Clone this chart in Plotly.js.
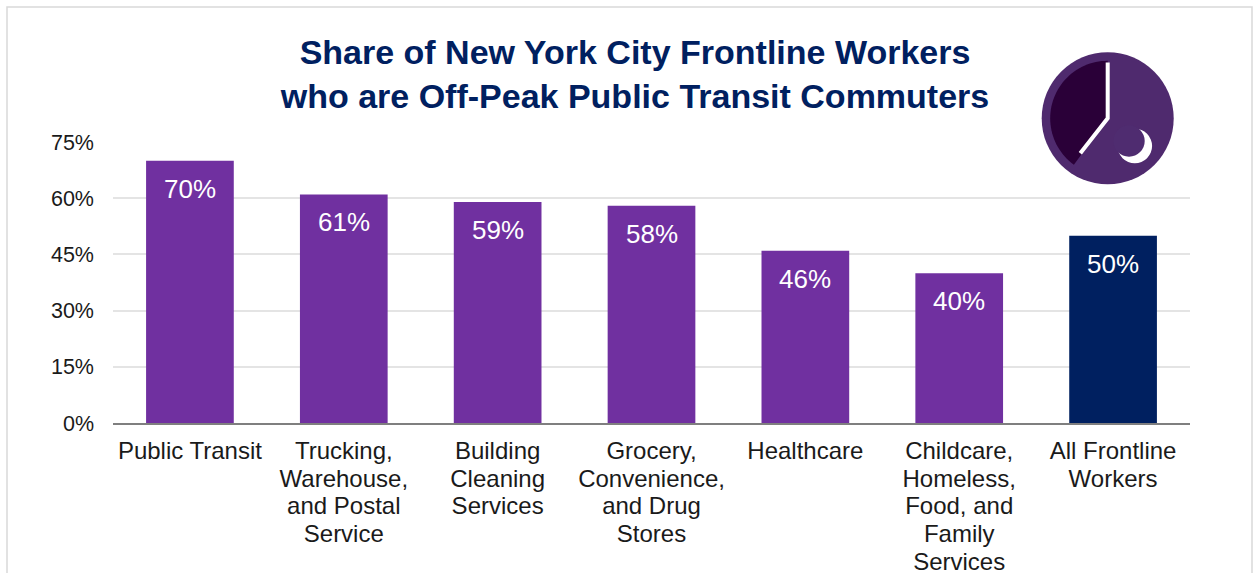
<!DOCTYPE html>
<html><head><meta charset="utf-8"><script src="https://cdn.plot.ly/plotly-3.0.1.min.js"></script>
<style>html,body{margin:0;padding:0;background:#fff;overflow:hidden}</style></head>
<body><div id="chart" style="width:1253px;height:573px"></div>
<script>
const categories = ["Public Transit","Trucking,<br>Warehouse,<br>and Postal<br>Service","Building<br>Cleaning<br>Services","Grocery,<br>Convenience,<br>and Drug<br>Stores","Healthcare","Childcare,<br>Homeless,<br>Food, and<br>Family<br>Services","All Frontline<br>Workers"];
const values = [70,61,59,58,46,40,50];
const barColors = ["#7030A0","#7030A0","#7030A0","#7030A0","#7030A0","#7030A0","#002060"];
const yTicks = [0,15,30,45,60,75];
const yTickLabels = ["0%","15%","30%","45%","60%","75%"];
const titleText = "<b>Share of New York City Frontline Workers<br>who are Off-Peak Public Transit Commuters</b>";

const W=1253,H=573,L=113,R=1190,T=142,B=423;
const px=x=>(x-L)/(R-L), py=y=>(B-y)/(B-T);
const CX=1107.7, CY=118.3;
const disc=(cx,cy,r,fill)=>({type:'circle',xref:'paper',yref:'paper',layer:'above',x0:px(cx-r),x1:px(cx+r),y0:py(cy+r),y1:py(cy-r),fillcolor:fill,line:{width:0}});
const poly=(pts,close)=>pts.map((p,i)=>(i?'L':'M')+px(p[0]).toFixed(5)+','+py(p[1]).toFixed(5)).join(' ')+(close?' Z':'');
// dark night sector of the clock face: from 12 o'clock counter-clockwise to about 7 o'clock
const sector=[[CX,CY]];
for(let a=0;a<=144;a+=3){const t=a*Math.PI/180;sector.push([CX-57.5*Math.sin(t),CY-57.5*Math.cos(t)]);}
const shapes=[
 {type:'rect',xref:'paper',yref:'paper',x0:px(7),x1:px(1252),y0:py(620),y1:py(7),layer:'below',line:{color:'#d9d9d9',width:1.5},fillcolor:'rgba(0,0,0,0)'},
 disc(CX,CY,66,'#4F2A6E'),
 {type:'path',xref:'paper',yref:'paper',layer:'above',path:poly(sector,true),fillcolor:'#2A0038',line:{width:0}},
 {type:'path',xref:'paper',yref:'paper',layer:'above',path:poly([[CX,62.5],[CX,CY],[1080.3,153.3]],false),fillcolor:'rgba(0,0,0,0)',line:{color:'#ffffff',width:4}},
 disc(1134.8,146,17.3,'#ffffff'),
 disc(1129,141,15.7,'#4F2C70')
];
const annotations=values.map((v,i)=>({x:i,y:v,xref:'x',yref:'y',text:v+'%',showarrow:false,yanchor:'middle',xanchor:'center',yshift:-28,font:{family:'Liberation Sans, Arial, sans-serif',size:26,color:'#ffffff'}}));
Plotly.newPlot('chart',[{type:'bar',x:categories.map((c,i)=>i),y:values,width:0.57,marker:{color:barColors,line:{width:0}},hoverinfo:'none'}],{
 width:W,height:H,margin:{l:L,r:W-R,t:T,b:H-B,pad:0},paper_bgcolor:'#fff',plot_bgcolor:'#fff',showlegend:false,
 font:{family:'Liberation Sans, Arial, sans-serif',color:'#1a1a1a'},
 title:{text:titleText,font:{family:'Liberation Sans, Arial, sans-serif',size:34,color:'#002060'},x:635/W,xanchor:'center',xref:'container',y:1-64/H,yanchor:'middle',yref:'container'},
 xaxis:{range:[-0.5,6.5],tickmode:'array',tickvals:categories.map((c,i)=>i),ticktext:categories,tickangle:0,tickfont:{size:24,color:'#1a1a1a'},showgrid:false,zeroline:false,showline:true,linecolor:'#7f7f7f',linewidth:2,ticks:'',ticklabelstandoff:5,automargin:false},
 yaxis:{range:[0,75],tickmode:'array',tickvals:yTicks,ticktext:yTickLabels,tickfont:{size:21.5,color:'#1a1a1a'},showgrid:true,gridcolor:'#e4e4e4',gridwidth:2,zeroline:false,showline:false,ticks:'',ticklabelstandoff:18,automargin:false},
 shapes,annotations
},{displayModeBar:false,staticPlot:true}).then(()=>{
 // the reference sets category labels with a tighter line pitch than Plotly's default 1.3em
 document.querySelectorAll('#chart .xtick text').forEach(t=>{
   t.querySelectorAll('tspan.line').forEach((s,i)=>s.setAttribute('dy',(i*27.8/24)+'em'));
 });
});
</script></body></html>
